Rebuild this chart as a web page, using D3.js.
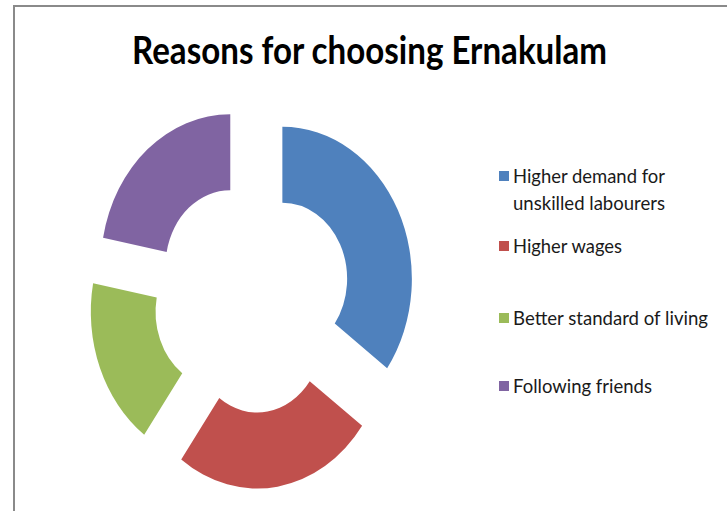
<!DOCTYPE html>
<html>
<head>
<meta charset="utf-8">
<script src="https://cdn.jsdelivr.net/npm/d3@7"></script>
<style>
  body { margin: 0; background: #fff; }
  svg { display: block; }
  text { font-family: Lato, "Open Sans", sans-serif; fill: #1a1a1a; }
</style>
</head>
<body>
<div id="chart"></div>
<script>
// data
const categories = [
  "Higher demand for unskilled labourers",
  "Higher wages",
  "Better standard of living",
  "Following friends"
];
const values = [35, 25, 18, 22];
const legendLines = [
  ["Higher demand for", "unskilled labourers"],
  ["Higher wages"],
  ["Better standard of living"],
  ["Following friends"]
];
const colors = ["#4F81BD", "#C0504D", "#9BBB59", "#8064A2"];

const width = 727,
  height = 511;

const svg = d3
  .select("#chart")
  .append("svg")
  .attr("width", width)
  .attr("height", height);

// frame (only top and left edges show in the crop)
svg
  .append("path")
  .attr("d", "M14,520 L14,6 L740,6")
  .attr("fill", "none")
  .attr("stroke", "#8a8a8a")
  .attr("stroke-width", 2);

// title
svg
  .append("text")
  .attr("x", 132)
  .attr("y", 64)
  .attr("font-size", 39)
  .attr("font-weight", "bold")
  .attr("textLength", 475)
  .attr("lengthAdjust", "spacingAndGlyphs")
  .style("fill", "#000")
  .text("Reasons for choosing Ernakulam");

// doughnut, slightly squeezed horizontally like the original picture
const cx = 252,
  cy = 297,
  outerR = 152,
  innerR = 76,
  explode = 40,
  sx = 0.852;

const pie = d3
  .pie()
  .sort(null)
  .value(d => d);

const arc = d3
  .arc()
  .innerRadius(innerR)
  .outerRadius(outerR);

const donut = svg
  .append("g")
  .attr("transform", `translate(${cx},${cy}) scale(${sx},1)`);

donut
  .selectAll("path")
  .data(pie(values))
  .enter()
  .append("path")
  .attr("d", arc)
  .attr("fill", (d, i) => colors[i])
  .attr("transform", d => {
    const a = (d.startAngle + d.endAngle) / 2;
    return `translate(${explode * Math.sin(a)},${-explode * Math.cos(a)})`;
  });

// legend
const legendX = 499;
const legendRows = [183, 253, 325, 393]; // baselines of first line
const lineWidths = [[152, 152], [109], [195], [139]];

const legend = svg
  .append("g")
  .selectAll("g")
  .data(categories)
  .enter()
  .append("g");

legend
  .append("rect")
  .attr("x", legendX)
  .attr("y", (d, i) => legendRows[i] - 12)
  .attr("width", 10)
  .attr("height", 10)
  .attr("fill", (d, i) => colors[i]);

legend.each(function(d, i) {
  const g = d3.select(this);
  legendLines[i].forEach((line, j) => {
    g.append("text")
      .attr("x", legendX + 14)
      .attr("y", legendRows[i] + j * 27)
      .attr("font-size", 20)
      .attr("textLength", lineWidths[i][j])
      .attr("lengthAdjust", "spacingAndGlyphs")
      .text(line);
  });
});
</script>
</body>
</html>
